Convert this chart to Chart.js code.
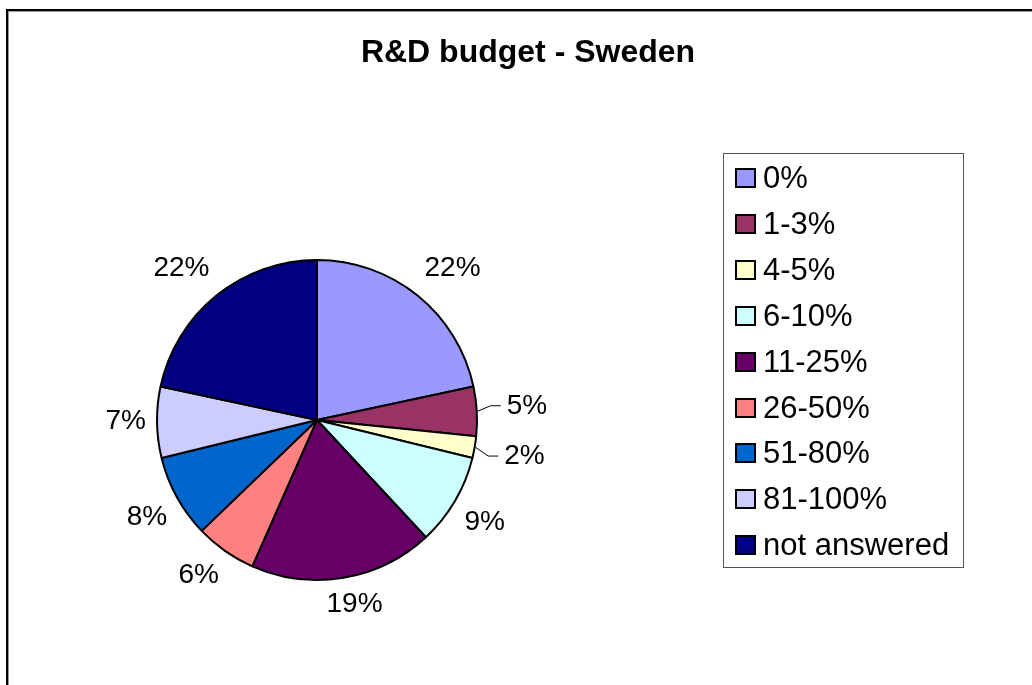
<!DOCTYPE html>
<html><head><meta charset="utf-8">
<script src="https://cdn.jsdelivr.net/npm/chart.js@4.4.1/dist/chart.umd.min.js"></script>
<style>
html,body{margin:0;padding:0;background:#fff;}
#wrap{position:relative;width:1032px;height:685px;overflow:hidden;}
#frame{position:absolute;left:6px;top:9px;width:2000px;height:2000px;border-left:2px solid #000;border-top:2px solid #000;box-shadow:inset 1px 1px 0 #9a9a9a;}
canvas{position:absolute;left:0;top:0;}
</style></head><body>
<div id="wrap"><div id="frame"></div><canvas id="c" width="1032" height="685"></canvas></div>
<script>
const chartTitle = 'R&D budget - Sweden';
const categories = ['0%', '1-3%', '4-5%', '6-10%', '11-25%', '26-50%', '51-80%', '81-100%', 'not answered'];
const shares = [21.7, 5.0, 2.2, 9.3, 18.6, 6.2, 8.4, 7.2, 21.7];
const sliceColors = ['#9999FF', '#993366', '#FFFFCC', '#CCFFFF', '#660066', '#FF8080', '#0066CC', '#CCCCFF', '#000080'];

const FONT = '"Liberation Sans", Arial, Helvetica, sans-serif';

function clamp(v) { return Math.max(-1, Math.min(1, v)); }

const excelPlugin = {
  id: 'excelLook',
  afterDraw(chart) {
    const ctx = chart.ctx;
    const data = chart.data.datasets[0].data;
    const total = data.reduce((a, b) => a + b, 0);
    ctx.save();
    // title
    ctx.fillStyle = '#000';
    ctx.font = 'bold 32px ' + FONT;
    ctx.textAlign = 'center';
    ctx.textBaseline = 'alphabetic';
    ctx.fillText(chartTitle, 528, 62);

    // data labels (outside end, Excel style)
    const meta = chart.getDatasetMeta(0);
    ctx.font = '28px ' + FONT;
    meta.data.forEach((arc, i) => {
      const p = arc.getProps(['x', 'y', 'startAngle', 'endAngle', 'outerRadius'], true);
      const mid = (p.startAngle + p.endAngle) / 2;
      const ux = Math.cos(mid), uy = Math.sin(mid);
      const pct = Math.round(data[i] / total * 100);
      const txt = pct + '%';
      const w = ctx.measureText(txt).width;
      const r = p.outerRadius + 1;
      const leader = pct <= 5;
      const D = r + (leader ? 29 : 10);
      const px = p.x + ux * D, py = p.y + uy * D;
      const cx = px + (w / 2) * clamp(ux * 2);
      const cy = py + 17 * clamp(uy * 2);
      const base = cy + 6;
      ctx.fillStyle = '#000';
      ctx.textAlign = 'center';
      if (leader) {
        const left = cx - w / 2;
        ctx.beginPath();
        ctx.lineWidth = 1;
        ctx.strokeStyle = '#000';
        ctx.moveTo(p.x + ux * r, p.y + uy * r);
        ctx.lineTo(left - 16, base - 8);
        ctx.lineTo(left - 6, base - 8);
        ctx.stroke();
      }
      ctx.fillText(txt, cx, base);
    });

    // legend
    ctx.lineWidth = 1;
    ctx.strokeStyle = '#555';
    ctx.strokeRect(723.5, 153.5, 240, 414);
    ctx.font = '31px ' + FONT;
    ctx.textAlign = 'left';
    chart.data.labels.forEach((lab, i) => {
      const top = Math.round(168 + i * 45.9);
      ctx.fillStyle = chart.data.datasets[0].backgroundColor[i];
      ctx.fillRect(735, top, 21, 20);
      ctx.lineWidth = 2;
      ctx.strokeStyle = '#000';
      ctx.strokeRect(736, top + 1, 19, 18);
      ctx.fillStyle = '#000';
      ctx.fillText(lab, 763, top + 20);
    });
    ctx.restore();
  }
};

new Chart(document.getElementById('c'), {
  type: 'pie',
  data: {
    labels: categories,
    datasets: [{
      data: shares,
      backgroundColor: sliceColors,
      borderColor: '#000',
      borderWidth: 2
    }]
  },
  options: {
    responsive: false,
    animation: false,
    radius: 160,
    layout: { padding: { left: 117, right: 515, top: 220, bottom: 65 } },
    plugins: {
      legend: { display: false },
      tooltip: { enabled: false },
      title: { display: false }
    }
  },
  plugins: [excelPlugin]
});
</script>
</body></html>
